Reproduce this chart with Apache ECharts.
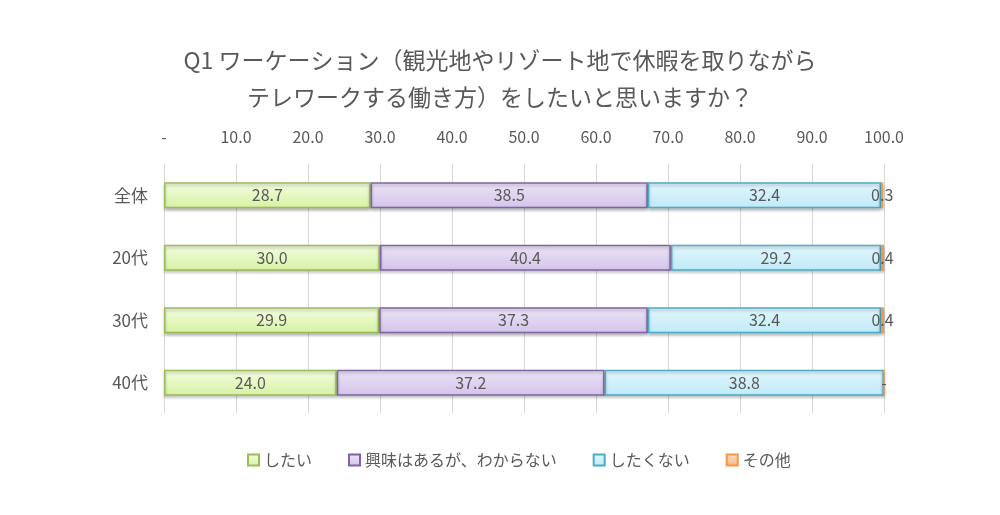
<!DOCTYPE html>
<html><head><meta charset="utf-8">
<script src="https://cdn.jsdelivr.net/npm/echarts@6/dist/echarts.min.js"></script>
<style>html,body{margin:0;padding:0;background:#fff}#c{width:1000px;height:515px}</style>
</head><body><div id="c"></div>
<script>
const categories = ['全体', '20代', '30代', '40代'];
const seriesNames = ['したい', '興味はあるが、わからない', 'したくない', 'その他'];
const want = [28.7, 30.0, 29.9, 24.0];
const interested = [38.5, 40.4, 37.3, 37.2];
const notWant = [32.4, 29.2, 32.4, 38.8];
const other = [0.3, 0.4, 0.4, 0];
const titleText = 'Q1 ワーケーション（観光地やリゾート地で休暇を取りながら\nテレワークする働き方）をしたいと思いますか？';

const FONT = '"Noto Sans CJK JP", "Noto Sans", sans-serif';
const styles = [
  {top: '#f4fde2', bottom: '#d6f2a2', border: '#9bbb59'},
  {top: '#ece4f6', bottom: '#d3c4ea', border: '#8064a2'},
  {top: '#e2f7fd', bottom: '#bfeaf8', border: '#4bacc6'},
  {top: '#fde0c8', bottom: '#f9b783', border: '#f79646'}
];
const dataSets = [want, interested, notWant, other];

const chart = echarts.init(document.getElementById('c'));
chart.setOption({
  animation: false,
  title: {
    text: titleText, left: 'center', top: 37,
    textStyle: {fontFamily: FONT, fontSize: 23, fontWeight: 'normal', color: '#595959', lineHeight: 37}
  },
  legend: {
    bottom: 42, left: 242, itemWidth: 11, itemHeight: 11, itemGap: 36,
    icon: 'rect',
    textStyle: {fontFamily: FONT, fontSize: 16, color: '#595959'},
    data: seriesNames
  },
  grid: {left: 164, right: 116, top: 164, height: 250},
  xAxis: {
    type: 'value', position: 'top', min: 0, max: 100, interval: 10,
    axisLine: {show: false}, axisTick: {show: false},
    splitLine: {lineStyle: {color: '#d9d9d9', width: 1}},
    axisLabel: {
      fontFamily: FONT, fontSize: 16, color: '#595959', margin: 19,
      formatter: v => v === 0 ? '-' : v.toFixed(1)
    }
  },
  yAxis: {
    type: 'category', data: categories, inverse: true,
    axisLine: {show: false}, axisTick: {show: false},
    axisLabel: {fontFamily: FONT, fontSize: 17, color: '#595959', margin: 16}
  },
  series: seriesNames.map((name, i) => ({
    name, type: 'bar', stack: 'total', barWidth: 26,
    data: dataSets[i],
    itemStyle: {
      color: new echarts.graphic.LinearGradient(0, 0, 0, 1, [
        {offset: 0, color: styles[i].top}, {offset: 1, color: styles[i].bottom}
      ]),
      borderColor: styles[i].border, borderWidth: 1.5,
      shadowColor: 'rgba(0,0,0,0.25)', shadowBlur: 3, shadowOffsetY: 2
    },
    label: {
      show: true, position: 'inside', fontFamily: FONT, fontSize: 16, color: '#595959',
      formatter: p => p.value === 0 ? '-' : p.value.toFixed(1)
    },
    emphasis: {disabled: true}
  }))
});
</script></body></html>
